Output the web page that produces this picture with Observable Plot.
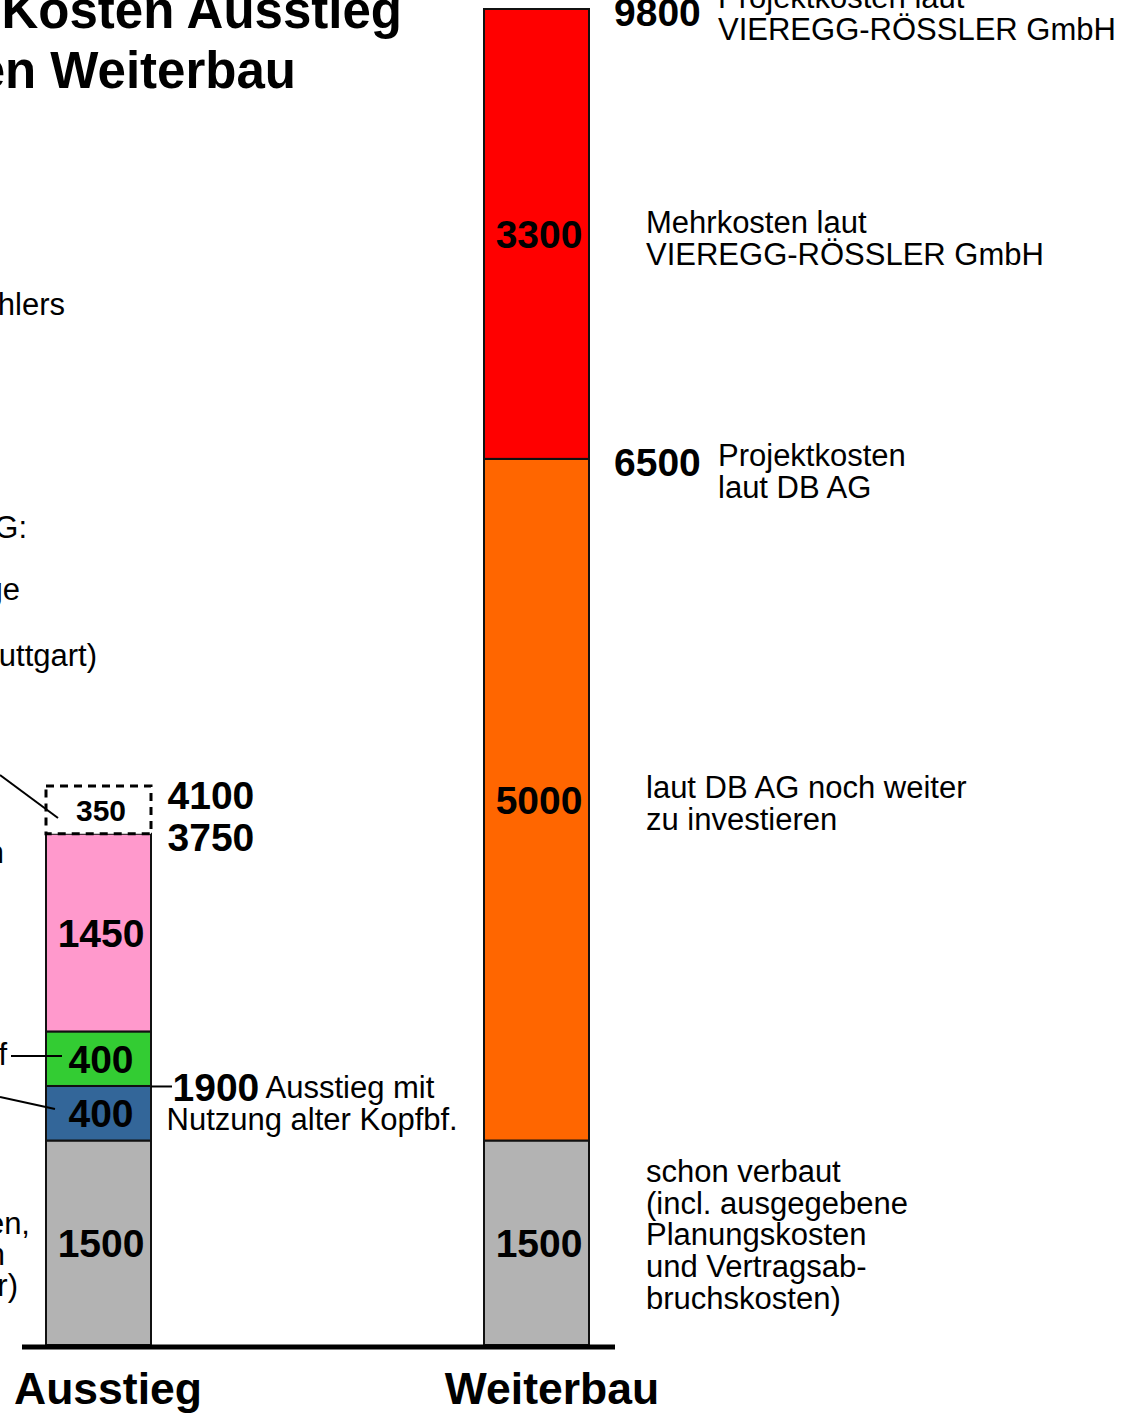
<!DOCTYPE html>
<html><head><meta charset="utf-8">
<script src="https://cdn.jsdelivr.net/npm/d3@7"></script>
<script src="https://cdn.jsdelivr.net/npm/@observablehq/plot@0.6"></script>
<style>
html,body{margin:0;padding:0;background:#fff;}
#chart{position:relative;width:1124px;height:1414px;overflow:hidden;}
#chart svg{font-family:"Liberation Sans",Arial,Helvetica,sans-serif;background:#fff;}
</style></head><body><div id="chart"></div>
<script>
// ---- data ----
const categories = ["Ausstieg", "Weiterbau"];
const segCategory = ["Ausstieg","Ausstieg","Ausstieg","Ausstieg","Ausstieg","Weiterbau","Weiterbau","Weiterbau"];
const segKey = ["verbautA","blau","gruen","rosa","risiko","verbautW","weiter","mehr"];
const segValue = [1500, 400, 400, 1450, 350, 1500, 5000, 3300];
const segDescription = ["", "", "", "", "", "schon verbaut\n(incl. ausgegebene\nPlanungskosten\nund Vertragsab-\nbruchskosten)", "laut DB AG noch weiter\nzu investieren", "Mehrkosten laut\nVIEREGG-RÖSSLER GmbH"];
const totalCategory = ["Weiterbau", "Weiterbau"];
const totalValue = [9800, 6500];
const totalText = ["Projektkosten laut\nVIEREGG-RÖSSLER GmbH", "Projektkosten\nlaut DB AG"];
const ausstiegTotals = [4100, 3750];
const kopfbfTotal = 1900;
const kopfbfLine1 = "Ausstieg mit";
const kopfbfLine2 = "Nutzung alter Kopfbf.";
const titleLines = ["Kosten Ausstieg", "en Weiterbau"];
const leftFragments = ["hlers", "G:", "ge", "uttgart)", "n", "f", "en,", "n", "r)"];

// ---- styles ----
const segColors = {verbautA:"#b3b3b3", blau:"#336699", gruen:"#33cc33", rosa:"#ff99cc", risiko:"#ffffff", verbautW:"#b3b3b3", weiter:"#ff6600", mehr:"#ff0000"};
const FONT = '"Liberation Sans",Arial,Helvetica,sans-serif';

// ---- build stacked table ----
const cum = {};
const segs = segValue.map((v, i) => {
  const c = segCategory[i];
  const y1 = cum[c] || 0;
  cum[c] = y1 + v;
  return {cat: c, key: segKey[i], value: v, y1, y2: y1 + v, desc: segDescription[i]};
});
const totals = totalValue.map((v, i) => ({cat: totalCategory[i], value: v, text: totalText[i]}));
const solid = segs.filter(d => d.key !== "risiko");
const dashed = segs.filter(d => d.key === "risiko");
const descUpper = segs.filter(d => d.desc && d.key !== "verbautW");
const descLower = segs.filter(d => d.desc && d.key === "verbautW");
const mid = d => (d.y1 + d.y2) / 2;

const plot = Plot.plot({
  width: 1124,
  height: 1414,
  marginLeft: 0, marginRight: 0, marginTop: 9, marginBottom: 69,
  style: {fontFamily: FONT, background: "#fff", overflow: "visible"},
  x: {type: "band", domain: categories, range: [46, 590], paddingInner: 0.7594, paddingOuter: 0, axis: null},
  y: {domain: [0, 9800], axis: null},
  color: {type: "identity"},
  marks: [
    Plot.barY(solid, {x: "cat", y1: "y1", y2: "y2", fill: d => segColors[d.key], stroke: "#111", strokeWidth: 2}),
    Plot.barY(dashed, {x: "cat", y1: "y1", y2: "y2", fill: "#ffffff", stroke: "#000", strokeWidth: 3, strokeDasharray: "8,6"}),
    Plot.ruleY([0], {insetLeft: 22, insetRight: 509, stroke: "#000", strokeWidth: 5, dy: 1.5}),
    Plot.ruleY([kopfbfTotal], {insetLeft: 151, insetRight: 1124 - 172, stroke: "#000", strokeWidth: 2}),
    // values inside bars
    Plot.text(solid, {x: "cat", y: mid, text: d => String(d.value), fontWeight: "bold", fontSize: 39, dx: 2, dy: 1}),
    Plot.text(dashed, {x: "cat", y: mid, text: d => String(d.value), fontWeight: "bold", fontSize: 30, dx: 2, dy: 1}),
    // segment descriptions
    Plot.text(descUpper, {x: "cat", y: mid, text: "desc", textAnchor: "start", dx: 109, dy: 4, fontSize: 31, lineHeight: 1.03}),
    Plot.text(descLower, {x: "cat", y: mid, text: "desc", textAnchor: "start", dx: 109, dy: -8, fontSize: 31, lineHeight: 1.03}),
    // totals Weiterbau
    Plot.text(totals, {x: "cat", y: "value", text: d => String(d.value), textAnchor: "start", dx: 77, dy: 4, fontWeight: "bold", fontSize: 39}),
    Plot.text(totals.slice(0, 1), {x: "cat", y: "value", text: "text", textAnchor: "start", dx: 181, dy: 4, fontSize: 31, lineHeight: 1.03}),
    Plot.text(totals.slice(1), {x: "cat", y: "value", text: "text", textAnchor: "start", dx: 181, dy: 12, fontSize: 31, lineHeight: 1.03}),
    // totals Ausstieg
    Plot.text(ausstiegTotals.slice(0, 1), {x: () => "Ausstieg", y: d => d, text: d => String(d), textAnchor: "start", dx: 68.5, dy: 10, fontWeight: "bold", fontSize: 39}),
    Plot.text(ausstiegTotals.slice(1), {x: () => "Ausstieg", y: d => d, text: d => String(d), textAnchor: "start", dx: 68.5, dy: 4, fontWeight: "bold", fontSize: 39}),
    Plot.text([kopfbfTotal], {x: () => "Ausstieg", y: d => d, text: d => String(d), textAnchor: "start", dx: 73.5, dy: 2, fontWeight: "bold", fontSize: 39}),
    Plot.text([kopfbfTotal], {x: () => "Ausstieg", y: d => d, text: () => kopfbfLine1, textAnchor: "start", dx: 166.5, dy: 2, fontSize: 31}),
    Plot.text([kopfbfTotal], {x: () => "Ausstieg", y: d => d, text: () => kopfbfLine2, textAnchor: "start", dx: 67.5, dy: 34, fontSize: 31}),
    // category labels
    Plot.text(categories.slice(0, 1), {x: d => d, y: () => 0, text: d => d, lineAnchor: "bottom", dy: 58, dx: 9, fontWeight: "bold", fontSize: 44.5}),
    Plot.text(categories.slice(1), {x: d => d, y: () => 0, text: d => d, lineAnchor: "bottom", dy: 58, dx: 15, fontWeight: "bold", fontSize: 44.5})
  ]
});
document.getElementById("chart").appendChild(plot);

// ---- annotation overlay (title and cut-off left column) ----
const svg = d3.select(plot);
const ov = svg.append("g").attr("font-family", FONT);
const titleLayout = [[402, 28], [296, 88]];
titleLines.forEach((t, i) => ov.append("text").attr("x", titleLayout[i][0]).attr("y", titleLayout[i][1])
  .attr("text-anchor", "end").attr("font-weight", "bold").attr("font-size", 51).text(t));
const fragLayout = [[65, 315], [27, 538], [20, 600], [97, 666], [4, 863], [7, 1065], [30, 1234], [5, 1265], [18, 1296]];
leftFragments.forEach((t, i) => ov.append("text").attr("x", fragLayout[i][0]).attr("y", fragLayout[i][1])
  .attr("text-anchor", "end").attr("font-size", 31).text(t));
const leaders = [[0, 775, 58, 818], [11, 1056, 62, 1056], [0, 1097, 55, 1109]];
leaders.forEach(l => ov.append("line").attr("x1", l[0]).attr("y1", l[1]).attr("x2", l[2]).attr("y2", l[3])
  .attr("stroke", "#000").attr("stroke-width", 2));
</script>
</body></html>
